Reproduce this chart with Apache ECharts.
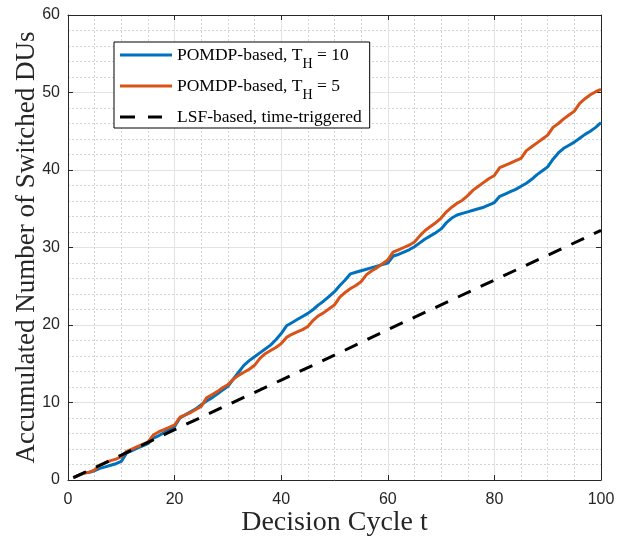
<!DOCTYPE html>
<html>
<head>
<meta charset="utf-8">
<script src="https://cdn.jsdelivr.net/npm/echarts@6/dist/echarts.min.js"></script>
<style>html,body{margin:0;padding:0;background:#fff}#c{width:625px;height:536px}</style>
</head>
<body>
<div id="c"></div>
<script>
var cycles = [];
for (var i = 1; i <= 100; i++) cycles.push(i);

var pomdpTH10 = [
  0.3,0.6,0.9,1.0,1.2,1.5,1.7,1.9,2.1,2.4,
  3.5,3.8,4.1,4.4,4.7,5.4,5.7,6.1,6.5,6.9,
  8.0,8.4,8.8,9.2,9.7,10.2,10.6,11.1,11.6,12.1,
  13.0,13.9,14.8,15.4,15.9,16.4,16.9,17.4,18.1,18.9,
  19.9,20.3,20.7,21.1,21.5,22.0,22.6,23.1,23.7,24.3,
  25.1,25.8,26.6,26.8,27.0,27.2,27.4,27.6,27.8,28.0,
  28.9,29.1,29.4,29.7,30.1,30.6,31.1,31.5,31.9,32.4,
  33.2,33.8,34.2,34.4,34.6,34.8,35.0,35.2,35.5,35.8,
  36.6,36.9,37.2,37.5,37.9,38.3,38.8,39.4,39.9,40.4,
  41.4,42.2,42.8,43.2,43.6,44.1,44.6,45.0,45.5,46.1
];
var pomdpTH5 = [
  0.3,0.6,0.9,1.0,1.3,1.9,2.2,2.5,2.7,3.0,
  3.7,4.0,4.3,4.6,4.9,5.8,6.2,6.5,6.8,7.1,
  8.1,8.4,8.7,9.1,9.5,10.6,11.0,11.4,11.9,12.3,
  13.0,13.5,13.9,14.3,14.8,15.7,16.3,16.7,17.1,17.6,
  18.4,18.8,19.1,19.4,19.8,20.6,21.2,21.6,22.1,22.6,
  23.6,24.2,24.7,25.1,25.6,26.5,27.0,27.4,27.9,28.4,
  29.4,29.7,30.0,30.3,30.7,31.5,32.2,32.7,33.2,33.8,
  34.6,35.2,35.7,36.1,36.7,37.4,37.9,38.4,38.9,39.3,
  40.3,40.6,40.9,41.2,41.5,42.5,43.0,43.5,44.0,44.5,
  45.5,46.0,46.6,47.1,47.6,48.6,49.2,49.7,50.1,50.4
];
var lsfCycles = [1,10,20,30,40,50,60,70,80,90,100];
var lsfValues = [0.3,3.2,6.5,9.7,12.9,16.1,19.4,22.6,25.8,29.0,32.2];

var xTicks = [0,20,40,60,80,100];
var yTicks = [0,10,20,30,40,50,60];

var legendNames = {
  th10: 'POMDP-based, T{sub|H} = 10',
  th5: 'POMDP-based, T{sub|H} = 5',
  lsf: 'LSF-based, time-triggered'
};

function pairs(xs, ys) { return xs.map(function (x, k) { return [x, ys[k]]; }); }

var axisColor = '#262626';
var serif = 'Liberation Serif, Times New Roman, serif';
var tickFont = { color: axisColor, fontSize: 16, fontFamily: 'Liberation Sans, Arial, sans-serif' };
var solidIcon = 'path://M0,0H52V3H0Z';
var dashIcon = 'path://M0,0H15V3H0Z M28,0H42V3H28Z M51.98,0H52V3H51.98Z';

var chart = echarts.init(document.getElementById('c'), null, { renderer: 'canvas' });
chart.setOption({
  animation: false,
  backgroundColor: '#ffffff',
  grid: { left: 68, right: 24, top: 15, bottom: 56, containLabel: false, outerBoundsMode: 'none' },
  legend: {
    orient: 'vertical',
    left: 114, top: 42,
    padding: [4, 8, 2, 6],
    itemWidth: 52, itemHeight: 3, itemGap: 6,
    borderColor: '#000', borderWidth: 1, backgroundColor: '#fff', borderRadius: 0,
    data: [
      { name: 'th10', icon: solidIcon },
      { name: 'th5', icon: solidIcon },
      { name: 'lsf', icon: dashIcon }
    ],
    formatter: function (n) { return legendNames[n]; },
    textStyle: {
      color: '#000', fontSize: 17.5, fontFamily: serif,
      rich: { sub: { fontSize: 14, verticalAlign: 'bottom', padding: [18, 0, 0, 0], fontFamily: serif, color: '#000' } }
    }
  },
  xAxis: [{
    type: 'value', min: xTicks[0], max: xTicks[xTicks.length - 1], interval: 20,
    name: 'Decision Cycle t', nameLocation: 'middle', nameGap: 29, nameMoveOverlap: false,
    nameTextStyle: { fontSize: 28, fontFamily: serif, color: axisColor },
    axisLine: { show: true, lineStyle: { color: axisColor, width: 1 } },
    axisTick: { show: true, inside: true, length: 5, lineStyle: { color: axisColor } },
    axisLabel: Object.assign({ margin: 12 }, tickFont),
    splitLine: { show: true, lineStyle: { color: '#e3e3e3', width: 1 } },
    minorTick: { show: false, splitNumber: 4 },
    minorSplitLine: { show: true, lineStyle: { color: '#d4d4d4', width: 1, type: [2, 2] } }
  }, {
    type: 'value', position: 'top', min: 0, max: 100, interval: 20,
    axisLine: { show: true, onZero: false, lineStyle: { color: axisColor, width: 1 } },
    axisTick: { show: true, inside: true, length: 5, lineStyle: { color: axisColor } },
    axisLabel: { show: false }, splitLine: { show: false }
  }],
  yAxis: [{
    type: 'value', min: yTicks[0], max: yTicks[yTicks.length - 1], interval: 10,
    name: 'Accumulated Number of Switched DUs', nameLocation: 'middle', nameGap: 28, nameMoveOverlap: false,
    nameTextStyle: { fontSize: 27, fontFamily: serif, color: axisColor },
    axisLine: { show: true, lineStyle: { color: axisColor, width: 1 } },
    axisTick: { show: true, inside: true, length: 5, lineStyle: { color: axisColor } },
    axisLabel: Object.assign({ margin: 8 }, tickFont),
    splitLine: { show: true, lineStyle: { color: '#e3e3e3', width: 1 } },
    minorTick: { show: false, splitNumber: 5 },
    minorSplitLine: { show: true, lineStyle: { color: '#d4d4d4', width: 1, type: [2, 2] } }
  }, {
    type: 'value', position: 'right', min: 0, max: 60, interval: 10,
    axisLine: { show: true, onZero: false, lineStyle: { color: axisColor, width: 1 } },
    axisTick: { show: true, inside: true, length: 5, lineStyle: { color: axisColor } },
    axisLabel: { show: false }, splitLine: { show: false }
  }],
  series: [{
    name: 'th10', type: 'line', data: pairs(cycles, pomdpTH10),
    showSymbol: false, symbol: 'none', z: 3,
    lineStyle: { color: '#0072BD', width: 3 }, itemStyle: { color: '#0072BD' }
  }, {
    name: 'th5', type: 'line', data: pairs(cycles, pomdpTH5),
    showSymbol: false, symbol: 'none', z: 4,
    lineStyle: { color: '#D95319', width: 3 }, itemStyle: { color: '#D95319' }
  }, {
    name: 'lsf', type: 'line', data: pairs(lsfCycles, lsfValues),
    showSymbol: false, symbol: 'none', z: 5,
    lineStyle: { color: '#000000', width: 3, type: [14, 11] }, itemStyle: { color: '#000000' }
  }]
});
</script>
</body>
</html>
